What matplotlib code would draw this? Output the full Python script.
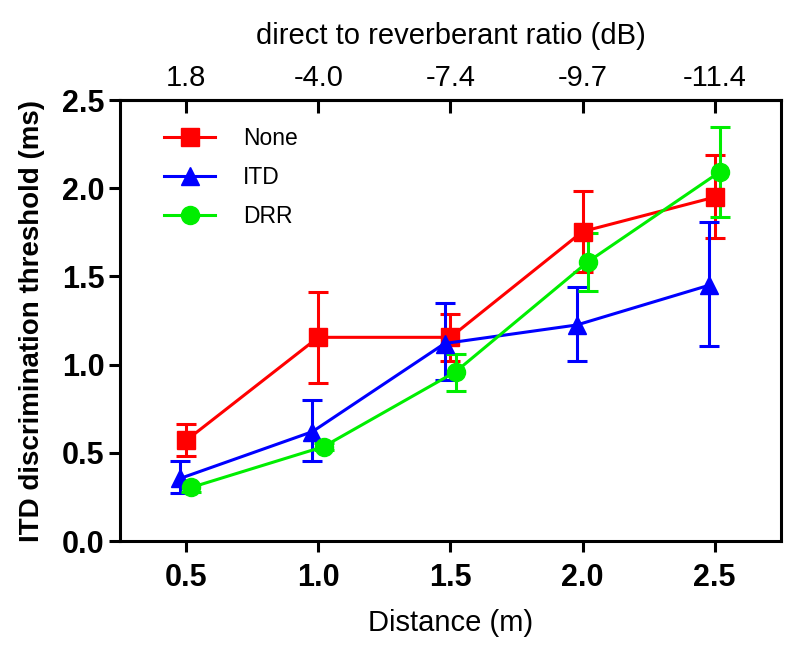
import matplotlib
matplotlib.use("Agg")
import matplotlib.pyplot as plt
from matplotlib.lines import Line2D
import numpy as np

plt.rcParams['font.family'] = ['Liberation Sans', 'DejaVu Sans']

distance = [0.5, 1.0, 1.5, 2.0, 2.5]
drr_labels = ['1.8', '-4.0', '-7.4', '-9.7', '-11.4']

none_mean = [0.57, 1.155, 1.155, 1.755, 1.95]
none_lo = [0.48, 0.895, 1.02, 1.525, 1.72]
none_hi = [0.665, 1.41, 1.285, 1.985, 2.19]

itd_mean = [0.355, 0.62, 1.12, 1.225, 1.45]
itd_lo = [0.274, 0.453, 0.913, 1.022, 1.105]
itd_hi = [0.453, 0.797, 1.347, 1.438, 1.807]

drr_mean = [0.304, 0.535, 0.96, 1.583, 2.094]
drr_lo = [0.28, 0.515, 0.852, 1.417, 1.84]
drr_hi = [0.325, 0.555, 1.06, 1.748, 2.345]

offsets = {'None': 0.0, 'ITD': -0.022, 'DRR': 0.02}

fig = plt.figure(figsize=(8, 6.58), dpi=100)
ax = fig.add_axes([0.15, 0.1778, 0.826, 0.670])

series = [
    ('None', none_mean, none_lo, none_hi, '#ff0000', 's'),
    ('ITD', itd_mean, itd_lo, itd_hi, '#0000ff', '^'),
    ('DRR', drr_mean, drr_lo, drr_hi, '#00ee00', 'o'),
]
handles = []
for name, m, lo, hi, col, mk in series:
    x = np.array(distance) + offsets[name]
    m = np.array(m)
    yerr = np.vstack([m - np.array(lo), np.array(hi) - m])
    ax.errorbar(x, m, yerr=yerr, color=col, marker=mk, markersize=13,
                linewidth=2.2, elinewidth=2.2, capsize=7, capthick=2.2)
    handles.append(Line2D([], [], color=col, marker=mk, markersize=13,
                          linewidth=2.2, label=name))

ax.set_xlim(0.25, 2.75)
ax.set_ylim(0, 2.5)
ax.set_xticks(distance)
ax.set_xticklabels([f'{d:.1f}' for d in distance], fontweight='bold', fontsize=22)
yt = [0.0, 0.5, 1.0, 1.5, 2.0, 2.5]
ax.set_yticks(yt)
ax.set_yticklabels([f'{v:.1f}' for v in yt], fontweight='bold', fontsize=22)
ax.tick_params(axis='both', direction='out', length=8, width=2.2, pad=6)
ax.tick_params(axis='y', pad=3)
ax.tick_params(axis='x', pad=8)
for s in ax.spines.values():
    s.set_linewidth(2.2)

ax.set_xlabel('Distance (m)', fontsize=21, labelpad=11)
ax.set_ylabel('ITD discrimination threshold (ms)', fontsize=20, fontweight='bold', labelpad=12)

sec = ax.secondary_xaxis('top')
sec.set_xticks(distance)
sec.set_xticklabels(drr_labels, fontsize=21)
sec.tick_params(direction='in', length=9, width=2.2, pad=6)
sec.spines['top'].set_linewidth(2.2)
sec.set_xlabel('direct to reverberant ratio (dB)', fontsize=21, labelpad=14)

leg = ax.legend(handles=handles, loc='upper left', bbox_to_anchor=(0.035, 0.985),
                frameon=False, fontsize=16.5, handlelength=2.25,
                labelspacing=0.7, handletextpad=1.2)

fig.savefig('out.png', dpi=100)
